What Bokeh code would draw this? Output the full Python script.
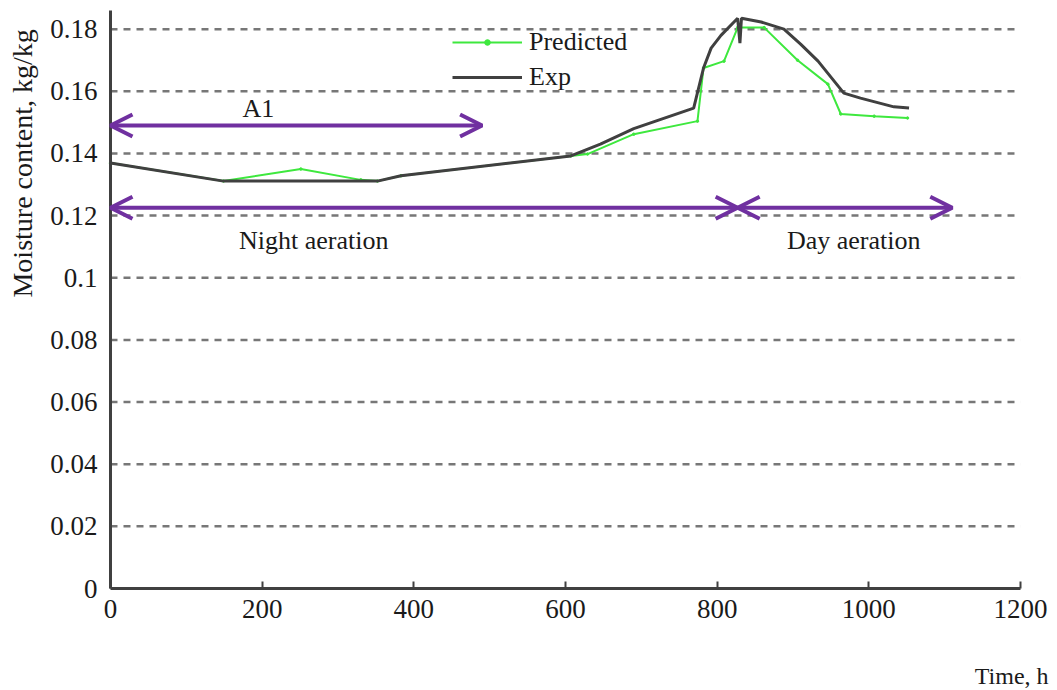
from bokeh.plotting import figure
from bokeh.models import (FixedTicker, Label, Arrow, OpenHead, Legend, LegendItem, Range1d)
from bokeh.embed import file_html
from bokeh.resources import INLINE

# ---- data ----
exp_t = [0, 149, 352, 383, 607, 646, 690, 769, 782, 792, 805, 827, 830, 832, 858, 888, 910, 933, 967, 989, 1033, 1053]
exp_m = [0.1369, 0.1311, 0.1311, 0.1328, 0.1392, 0.1430, 0.1480, 0.1546, 0.1675, 0.1739, 0.1780, 0.1835, 0.1755, 0.1835,
         0.1823, 0.1800, 0.1752, 0.1697, 0.1594, 0.1578, 0.1550, 0.1546]
pred_t = [0, 149, 251, 330, 352, 383, 607, 629, 690, 774, 782, 809, 827, 862, 906, 946, 963, 1007, 1051]
pred_m = [0.1369, 0.1311, 0.1350, 0.1315, 0.1311, 0.1328, 0.1392, 0.1398, 0.1462, 0.1504, 0.1675, 0.1697, 0.1805, 0.1805,
          0.1700, 0.1623, 0.1527, 0.1520, 0.1514]

x_ticks = [0, 200, 400, 600, 800, 1000, 1200]
y_ticks = [0, 0.02, 0.04, 0.06, 0.08, 0.1, 0.12, 0.14, 0.16, 0.18]
y_tick_labels = ["0", "0.02", "0.04", "0.06", "0.08", "0.1", "0.12", "0.14", "0.16", "0.18"]
y_axis_top = 0.186

arrow_names = ["A1", "Night", "Day"]
arrow_start = [0, 0, 827]
arrow_end = [490, 827, 1110]
arrow_y = [0.149, 0.1225, 0.1225]

note_text = ["A1", "Night aeration", "Day aeration"]
note_x = [195, 268, 980]
note_y = [0.1545, 0.112, 0.112]

x_title = "Time, h"
y_title = "Moisture content, kg/kg"

FONT = "Liberation Serif"
PURPLE = "#7030A0"
GREEN = "#3ee83e"
DARK = "#404040"
TXT = "#1a1a1a"

# frame covers the whole canvas; axes are pinned at 0 so the titles can sit outside the axes
p = figure(width=1054, height=688, output_backend="svg", toolbar_location=None,
           x_range=Range1d(-145.05, 1244.8), y_range=Range1d(-0.03218, 0.18922),
           min_border_left=0, min_border_right=0, min_border_top=0, min_border_bottom=0)
p.outline_line_color = None
p.background_fill_color = "white"
p.xgrid.visible = False
p.ygrid.visible = False

# grid lines (horizontal, dashed) between first and last x tick
n = len(y_ticks) - 1
p.segment(x0=[x_ticks[0]] * n, y0=y_ticks[1:], x1=[x_ticks[-1]] * n, y1=y_ticks[1:],
          line_color="#777777", line_width=2.5, line_dash="7 6")

# axes
for ax in (p.xaxis[0], p.yaxis[0]):
    ax.axis_line_color = DARK
    ax.axis_line_width = 3
    ax.major_label_text_font = FONT
    ax.major_label_text_font_size = "27px"
    ax.major_label_text_color = TXT
    ax.minor_tick_line_color = None
    ax.fixed_location = 0
p.xaxis.bounds = (x_ticks[0], x_ticks[-1])
p.xaxis.ticker = FixedTicker(ticks=x_ticks)
p.xaxis.major_tick_in = 7
p.xaxis.major_tick_out = 0
p.xaxis.major_tick_line_width = 2
p.xaxis.major_tick_line_color = DARK
p.xaxis.major_label_standoff = 11
p.yaxis.bounds = (y_ticks[0], y_axis_top)
p.yaxis.ticker = FixedTicker(ticks=y_ticks)
p.yaxis.major_label_overrides = {v: s for v, s in zip(y_ticks, y_tick_labels)}
p.yaxis.major_tick_line_color = None
p.yaxis.major_label_standoff = 7

# series
r_pred = p.line(pred_t, pred_m, line_color=GREEN, line_width=2)
r_pred_pts = p.scatter(pred_t, pred_m, size=2.5, color=GREEN)
r_exp = p.line(exp_t, exp_m, line_color=DARK, line_width=3)

legend = Legend(items=[LegendItem(label="Predicted", renderers=[r_pred, r_pred_pts]),
                       LegendItem(label="Exp", renderers=[r_exp])],
                location=(452, 596))
legend.label_text_font = FONT
legend.label_text_font_size = "26px"
legend.label_text_color = TXT
legend.glyph_width = 70
legend.glyph_height = 14
legend.label_height = 30
legend.spacing = 5
legend.padding = 0
legend.margin = 0
legend.label_standoff = 7
legend.border_line_alpha = 0
legend.background_fill_alpha = 0
p.add_layout(legend)

# arrows
for xs, xe, y in zip(arrow_start, arrow_end, arrow_y):
    p.add_layout(Arrow(x_start=xs, y_start=y, x_end=xe, y_end=y,
                       line_color=PURPLE, line_width=4,
                       start=OpenHead(size=22, line_color=PURPLE, line_width=4),
                       end=OpenHead(size=22, line_color=PURPLE, line_width=4)))

for t, x, y in zip(note_text, note_x, note_y):
    p.add_layout(Label(x=x, y=y, text=t, text_align="center", text_baseline="middle",
                       text_font=FONT, text_font_size="26px", text_color=TXT))

# axis titles
p.add_layout(Label(x=-116, y=0.1368, text=y_title, angle=90, angle_units="deg",
                   text_align="center", text_baseline="middle",
                   text_font=FONT, text_font_size="28px", text_color=TXT))
p.add_layout(Label(x=1237, y=-0.028, text=x_title, text_align="right", text_baseline="middle",
                   text_font=FONT, text_font_size="24px", text_color=TXT))

open("out.html", "w").write(file_html(p, INLINE))
